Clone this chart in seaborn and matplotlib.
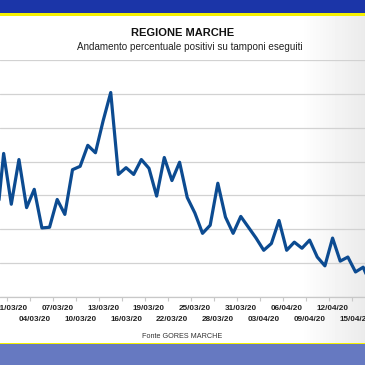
"""Regione Marche - andamento percentuale positivi su tamponi"""

import matplotlib

matplotlib.use("Agg")
import matplotlib.dates as mdates
import matplotlib.pyplot as plt
import numpy as np
import pandas as pd
import seaborn as sb

# Data
start_date = "2020-02-28"
positivity = [
    9.9, 21.2, 13.7, 20.3, 13.2, 15.9, 10.2, 10.3, 14.4, 12.2,
    18.8, 19.3, 22.4, 21.3, 26.0, 30.2, 18.1, 19.1, 18.1, 20.3,
    19.0, 14.9, 20.6, 17.2, 19.9, 14.7, 12.4, 9.4, 10.6, 16.8,
    11.8, 9.4, 11.9, 10.3, 8.7, 6.9, 7.9, 11.3, 6.9, 8.1,
    7.2, 8.4, 5.9, 4.6, 8.7, 5.3, 5.9, 3.7, 4.4, 1.8,
]
tick_labels = [
    "26/02/20", "01/03/20", "04/03/20", "07/03/20", "10/03/20", "13/03/20",
    "16/03/20", "19/03/20", "22/03/20", "25/03/20", "28/03/20", "31/03/20",
    "03/04/20", "06/04/20", "09/04/20", "12/04/20", "15/04/20", "18/04/20",
]
title = "REGIONE MARCHE"
subtitle = "Andamento percentuale positivi su tamponi eseguiti"
source = "Fonte GORES MARCHE"

dates = pd.date_range(start_date, periods=len(positivity), freq="D")
df = pd.DataFrame({"data": dates, "positivi": positivity})
tick_dates = pd.to_datetime(tick_labels, format="%d/%m/%y")

sb.set_style("white")
plt.rcParams["font.family"] = ["Liberation Sans", "DejaVu Sans"]

W, H = 365, 365
fig = plt.figure(figsize=(W / 100, H / 100), dpi=100)

# background with faint grey fade on the right
bg = fig.add_axes([0, 0, 1, 1], zorder=0)
grad = np.ones((2, 365))
ramp = np.clip((np.arange(365) - 300) / 65.0, 0, 1)
grad[:] = 1 - 0.08 * ramp
bg.imshow(grad, cmap="gray", vmin=0, vmax=1, aspect="auto", extent=[0, 1, 0, 1])
bg.set_xlim(0, 1)
bg.set_ylim(0, 1)
# top band
bg.axhspan(1 - 13 / H, 1, color="#1b35a8", lw=0)
bg.axhspan(1 - 15.5 / H, 1 - 13 / H, color="#f5f000", lw=0)
# bottom band
bg.axhspan(0, 21 / H, color="#6679c1", lw=0)
bg.axhspan(21 / H, 22.5 / H, color="#f5f000", lw=0)
bg.axis("off")

# plot axes, extending past the figure edges like the cropped original
ax_bottom = (H - 297) / H
ax_top = (H - 60) / H
ax = fig.add_axes([0, ax_bottom, 1, ax_top - ax_bottom], zorder=1)
ax.patch.set_alpha(0)

sb.lineplot(data=df, x="data", y="positivi", ax=ax, color="#0c4b91", lw=2.3)

ax.set_yticks(np.arange(0, 36, 5))
ax.set_yticklabels([])
ax.tick_params(axis="y", length=0)
ax.grid(axis="y", color="#d2d2d2", lw=0.9)
ax.set_axisbelow(True)

# labels in two staggered rows: top row on major ticks, bottom row on minor ticks
lab_kw = dict(fontsize=5.9, fontweight="bold", color="#222222")
ax.set_xticks(tick_dates[1::2])
ax.set_xticklabels(tick_labels[1::2], **lab_kw)
ax.set_xticks(tick_dates[0::2], minor=True)
ax.set_xticklabels(tick_labels[0::2], minor=True, **lab_kw)
ax.tick_params(axis="x", which="major", length=0, pad=5.5)
ax.tick_params(axis="x", which="minor", length=0, pad=14.0)

# small grey tick marks between categories
marks = ax.secondary_xaxis("bottom")
marks.set_xticks(mdates.date2num(tick_dates - pd.Timedelta(hours=12)))
marks.set_xticklabels([])
marks.tick_params(axis="x", length=3, color="#c8c8c8", width=0.8)
marks.spines["bottom"].set_visible(False)

ax.set_xlabel("")
ax.set_ylabel("")
for side in ["left", "right", "top"]:
    ax.spines[side].set_visible(False)
ax.spines["bottom"].set_color("#c8c8c8")
ax.spines["bottom"].set_linewidth(0.9)

# limits last, so setting ticks does not widen them
day0 = pd.Timestamp("2020-03-01")
ax.set_xlim(day0 - pd.Timedelta(days=1.477), day0 + pd.Timedelta(days=46.24))
ax.set_ylim(0, 35)

fig.text(0.5, 1 - 33 / H, title, ha="center", va="center", fontsize=8, fontweight="bold", color="#111111")
fig.text(0.52, 1 - 47 / H, subtitle, ha="center", va="center", fontsize=7.1, color="#222222")
fig.text(0.5, 1 - 336 / H, source, ha="center", va="center", fontsize=5.2, color="#333333")

fig.savefig("out.png", dpi=100)
